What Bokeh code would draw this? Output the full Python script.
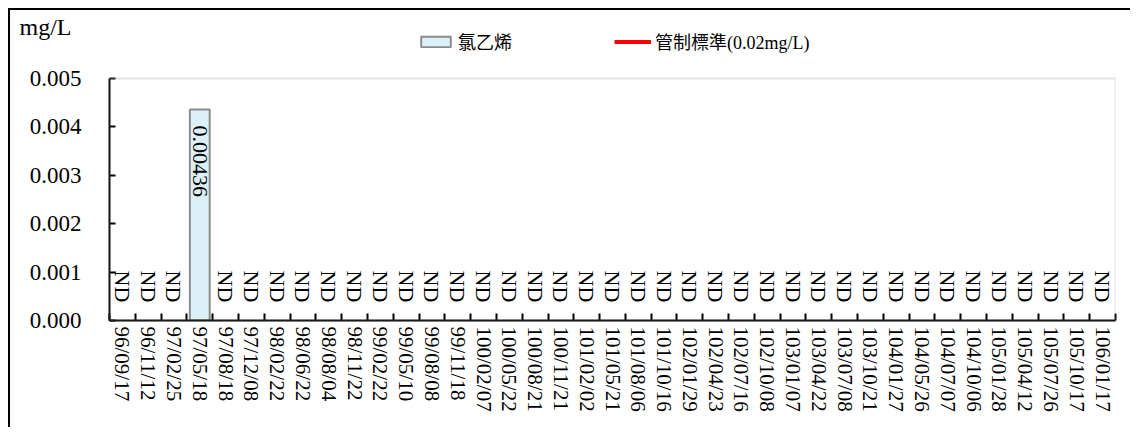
import math
from bokeh.plotting import figure
from bokeh.models import (Range1d, FixedTicker, Legend, LegendItem, ColumnDataSource,
                          PrintfTickFormatter, BoxAnnotation)
from bokeh.core.properties import value
from bokeh.embed import file_html
from bokeh.resources import INLINE

dates = ["96/09/17", "96/11/12", "97/02/25", "97/05/18", "97/08/18", "97/12/08",
         "98/02/22", "98/06/22", "98/08/04", "98/11/22", "99/02/22", "99/05/10",
         "99/08/08", "99/11/18", "100/02/07", "100/05/22", "100/08/21", "100/11/21",
         "101/02/02", "101/05/21", "101/08/06", "101/10/16", "102/01/29", "102/04/23",
         "102/07/16", "102/10/08", "103/01/07", "103/04/22", "103/07/08", "103/10/21",
         "104/01/27", "104/05/26", "104/07/07", "104/10/06", "105/01/28", "105/04/12",
         "105/07/26", "105/10/17", "106/01/17"]
# None = ND (not detected)
vinyl_chloride = [None, None, None, 0.00436, None, None,
                  None, None, None, None, None, None,
                  None, None, None, None, None, None,
                  None, None, None, None, None, None,
                  None, None, None, None, None, None,
                  None, None, None, None, None, None,
                  None, None, None]
standard = [0.02] * len(dates)
y_ticks = [0.000, 0.001, 0.002, 0.003, 0.004, 0.005]
series_name = "氯乙烯"
standard_name = "管制標準(0.02mg/L)"
unit = "mg/L"

SERIF = "Liberation Serif"
MIXED = "'Liberation Serif', 'Noto Sans CJK TC'"

n = len(dates)
idx = list(range(n))
y_min, y_max = y_ticks[0], y_ticks[-1]

# layout (pixels)
PLOT_H = 242          # height of the value area
HEADER_H = 48         # legend strip kept inside the frame above the value area
y_top = y_max + (y_max - y_min) * HEADER_H / PLOT_H

p = figure(width=1122, height=419, output_backend="svg", toolbar_location=None,
           x_range=Range1d(-0.5, n - 0.5), y_range=Range1d(y_min, y_top),
           min_border_left=99, min_border_right=17, min_border_top=20, min_border_bottom=109)
p.styles = {"margin-left": "8px", "margin-top": "8px",
            "border-left": "2px solid black", "border-top": "2px solid black"}

p.xgrid.visible = False
p.ygrid.visible = False
p.outline_line_color = None
p.background_fill_color = "white"
p.border_fill_color = "white"

# plot-area border (gray)
p.add_layout(BoxAnnotation(left=-0.5, right=n - 0.5, bottom=y_min, top=y_max,
                           fill_alpha=0, line_color="#a6a6a6", line_width=2))

bar_src = ColumnDataSource(dict(x=[i for i in idx if vinyl_chloride[i] is not None],
                                top=[v for v in vinyl_chloride if v is not None]))
bars = p.vbar(x="x", top="top", width=0.77, source=bar_src,
              fill_color="#dcf0f7", line_color="#8c8c8c", line_width=2)

# control standard (0.02 mg/L) lies above the visible range
std_src = ColumnDataSource(dict(x=idx, y=standard))
std_line = p.line(x="x", y="y", source=std_src, line_color="#ff0000", line_width=4)

# data labels
nd_src = ColumnDataSource(dict(x=[i for i in idx if vinyl_chloride[i] is None],
                               y=[0.0 for i in idx if vinyl_chloride[i] is None],
                               t=["ND" for i in idx if vinyl_chloride[i] is None]))
p.text(x="x", y="y", text="t", source=nd_src, angle=-math.pi / 2,
       text_align="left", text_baseline="middle", y_offset=-50,
       text_font=value(SERIF), text_font_size="22px", text_color="black")

val_src = ColumnDataSource(dict(x=[i for i in idx if vinyl_chloride[i] is not None],
                                y=[v for v in vinyl_chloride if v is not None],
                                t=[str(v) for v in vinyl_chloride if v is not None]))
p.text(x="x", y="y", text="t", source=val_src, angle=-math.pi / 2,
       text_align="left", text_baseline="middle", y_offset=16,
       text_font=value(SERIF), text_font_size="22px", text_color="black")

# x axis
xa = p.xaxis[0]
xa.ticker = FixedTicker(ticks=idx, minor_ticks=[i - 0.5 for i in range(n + 1)])
xa.major_label_overrides = {i: d for i, d in zip(idx, dates)}
xa.major_label_orientation = -math.pi / 2
xa.major_tick_in = 0
xa.major_tick_out = 0
xa.minor_tick_in = 7
xa.minor_tick_out = 0
xa.minor_tick_line_color = "black"
xa.minor_tick_line_width = 2
xa.axis_line_color = "black"
xa.axis_line_width = 2
xa.major_label_standoff = 6
xa.major_label_text_font = SERIF
xa.major_label_text_font_size = "21px"
xa.major_label_text_color = "black"

# y axis
ya = p.yaxis[0]
ya.bounds = (y_min, y_max)
ya.ticker = FixedTicker(ticks=y_ticks, minor_ticks=[])
ya.formatter = PrintfTickFormatter(format="%.3f")
ya.major_tick_in = 6
ya.major_tick_out = 0
ya.major_tick_line_color = "black"
ya.major_tick_line_width = 2
ya.minor_tick_line_color = None
ya.axis_line_color = "black"
ya.axis_line_width = 2
ya.major_label_standoff = 28
ya.major_label_text_font = SERIF
ya.major_label_text_font_size = "23px"
ya.major_label_text_color = "black"

# unit label as a left-aligned title
p.title.text = unit
p.title.align = "left"
p.title.offset = -90
p.title.standoff = -19
p.title.text_font = SERIF
p.title.text_font_size = "24px"
p.title.text_font_style = "normal"
p.title.text_color = "black"

legend = Legend(items=[LegendItem(label=series_name, renderers=[bars]),
                       LegendItem(label=standard_name, renderers=[std_line])],
                orientation="horizontal", location=(308, 266), spacing=102,
                glyph_width=37, glyph_height=13, label_standoff=4,
                padding=0, margin=0, border_line_color=None, background_fill_alpha=0,
                label_text_font=MIXED, label_text_font_size="18px", label_text_color="black")
p.add_layout(legend, "center")

open("out.html", "w").write(file_html(p, INLINE))
